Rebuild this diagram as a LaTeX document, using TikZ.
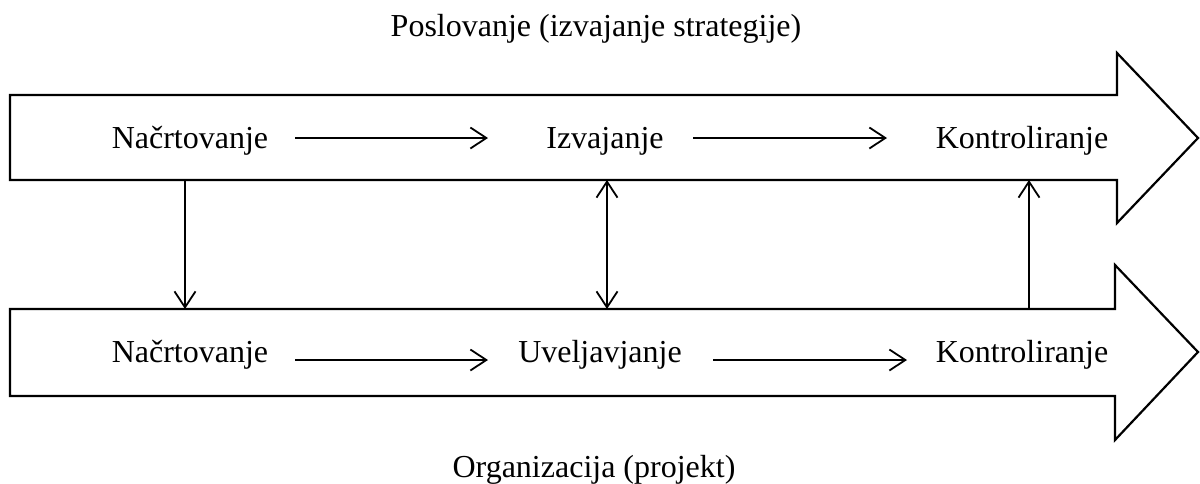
\documentclass[tikz,border=0pt]{standalone}
\usepackage{fontspec}
\setmainfont{Liberation Serif}
\usetikzlibrary{arrows.meta}
\begin{document}
\begin{tikzpicture}[x=1pt,y=-1pt,
  bigarrow/.style={draw=black,line width=2.2pt,line join=miter,fill=white},
  label/.style={font=\fontsize{32}{38}\selectfont,anchor=base,inner sep=0pt},
  flow/.style={line width=1.8pt,-{Straight Barb[length=16pt,width=21pt,line width=1.8pt]}},
  link/.style={line width=1.8pt}]
\useasboundingbox (0,0) rectangle (1200,483);

% upper block arrow: business
\draw[bigarrow] (10,95) -- (1117,95) -- (1117,53) -- (1198,138) -- (1117,223)
  -- (1117,180) -- (10,180) -- cycle;
% lower block arrow: organisation
\draw[bigarrow] (10,309) -- (1115,309) -- (1115,265) -- (1198,352) -- (1115,440)
  -- (1115,396) -- (10,396) -- cycle;

% titles
\node[label] (tp) at (596,36) {Poslovanje (izvajanje strategije)};
\node[label] (bt) at (594,477) {Organizacija (projekt)};

% upper row
\node[label] (u1) at (190,148) {Načrtovanje};
\node[label] (u2) at (605,148) {Izvajanje};
\node[label] (u3) at (1022,148) {Kontroliranje};
% lower row
\node[label] (l1) at (190,362) {Načrtovanje};
\node[label] (l2) at (600,362) {Uveljavjanje};
\node[label] (l3) at (1022,362) {Kontroliranje};

% arrow ends along the rows
\coordinate (u1e) at (295,138);
\coordinate (u2w) at (488,138);
\coordinate (u2e) at (693,138);
\coordinate (u3w) at (887,138);
\coordinate (l1e) at (295,360);
\coordinate (l2w) at (488,360);
\coordinate (l2e) at (713,360);
\coordinate (l3w) at (907,360);

\draw[flow] (u1e) -- (u2w);
\draw[flow] (u2e) -- (u3w);
\draw[flow] (l1e) -- (l2w);
\draw[flow] (l2e) -- (l3w);

% links between the two block arrows
\coordinate (a1) at (185,180);
\coordinate (b1) at (185,309);
\coordinate (a2) at (607,180);
\coordinate (b2) at (607,309);
\coordinate (a3) at (1029,180);
\coordinate (b3) at (1029,309);

\draw[flow] (a1) -- (b1);
\draw[flow,{Straight Barb[length=16pt,width=21pt,line width=1.8pt]}-{Straight Barb[length=16pt,width=21pt,line width=1.8pt]}] (a2) -- (b2);
\draw[flow] (b3) -- (a3);
\end{tikzpicture}
\end{document}
